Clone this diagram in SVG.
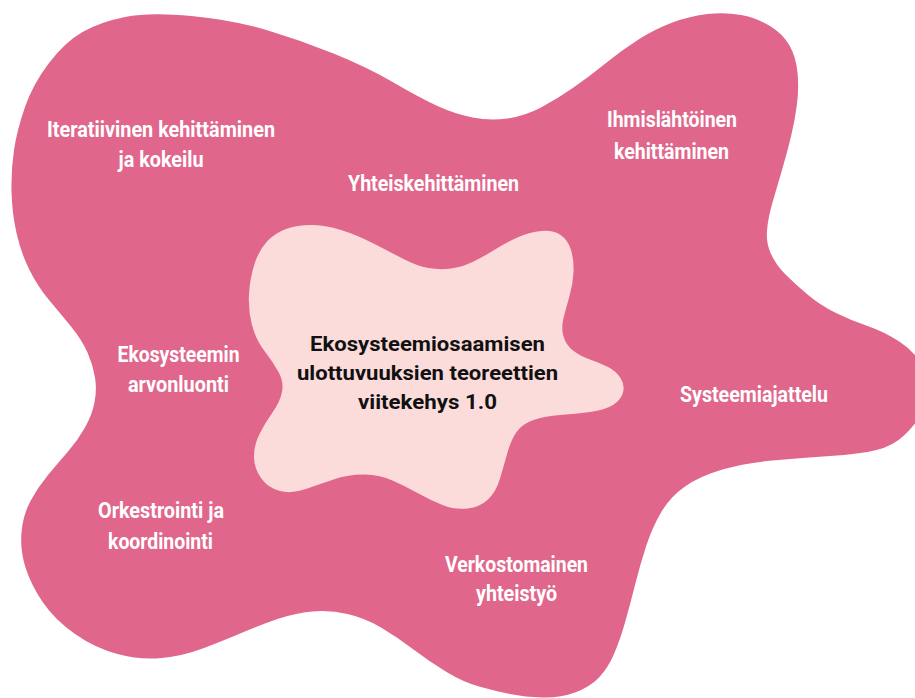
<svg xmlns="http://www.w3.org/2000/svg" width="915" height="698" viewBox="0 0 915 698">
<style>
.outer{fill:#E1668C}
.inner{fill:#FCDCDB}
.lbl{font-family:Roboto,"Liberation Sans",sans-serif;font-weight:700;font-size:22px;fill:#FFFFFF;text-anchor:middle}
.ctr{font-family:Roboto,"Liberation Sans",sans-serif;font-weight:700;font-size:19.5px;fill:#111111;text-anchor:middle}
</style>
<rect width="915" height="698" fill="#FFFFFF"/>
<g id="outer-blob">
<path class="outer" d="M125,17 Q150,12 191.5,16 Q233,20 266.5,30 Q300,40 333.5,53.5 Q367,67 393.5,82.5 Q420,98 437.5,106 Q455,114 472.5,117.5 Q490,121 507.5,118.5 Q525,116 541,107.5 Q557,99 573.5,87.5 Q590,76 606,63 Q622,50 638.5,39.5 Q655,29 672.5,22.5 Q690,16 707.5,14 Q725,12 741,15 Q757,18 770,26 Q783,34 789.5,45.5 Q796,57 797.5,72.5 Q799,88 797,104 Q795,120 791,136.5 Q787,153 782,170 Q777,187 772.5,202.5 Q768,218 767,230.5 Q766,243 771,254 Q776,265 785.5,274.5 Q795,284 807.5,294.5 Q820,305 835,312.5 Q850,320 867.5,326 Q885,332 900,342 Q915,352 922.5,366 Q930,380 930,390 Q930,400 922.5,412.5 Q915,425 904,435.5 Q893,446 876.5,450 Q860,454 830,456 Q800,458 772.5,460.5 Q745,463 722.5,469.5 Q700,476 685,486.5 Q670,497 661,512.5 Q652,528 646,546.5 Q640,565 635,585 Q630,605 625,622.5 Q620,640 614,654 Q608,668 599,677.5 Q590,687 575,692.5 Q560,698 542.5,697.5 Q525,697 510,694 Q495,691 479,686.5 Q463,682 446.5,672 Q430,662 413.5,649.5 Q397,637 381,627.5 Q365,618 347.5,614 Q330,610 312.5,611.5 Q295,613 277.5,619 Q260,625 242.5,632.5 Q225,640 204,648 Q183,656 161.5,658 Q140,660 117.5,654 Q95,648 75,634 Q55,620 43,602.5 Q31,585 25.5,567.5 Q20,550 21.5,532.5 Q23,515 30.5,501 Q38,487 48,475 Q58,463 68,451.5 Q78,440 85,427.5 Q92,415 94.5,402.5 Q97,390 95,377.5 Q93,365 87.5,352.5 Q82,340 71,326.5 Q60,313 49,300 Q38,287 29.5,270 Q21,253 16.5,233 Q12,213 11.5,191.5 Q11,170 14,150 Q17,130 25,107 Q33,84 49,63 Q65,42 82.5,32 Q100,22 125,17 Z"/>
</g>
<g id="inner-blob">
<path class="inner" d="M286,229 Q297,225 311,225 Q325,225 341,230 Q357,235 373.5,243.5 Q390,252 403.5,259 Q417,266 428.5,268 Q440,270 451,268.5 Q462,267 472.5,262 Q483,257 495,249.5 Q507,242 518.5,237 Q530,232 541.5,231 Q553,230 560.5,235 Q568,240 571,250 Q574,260 573.5,272 Q573,284 569.5,296 Q566,308 563.5,318 Q561,328 563.5,336.5 Q566,345 573,350.5 Q580,356 590,359.5 Q600,363 608,367 Q616,371 620.5,378 Q625,385 623,392.5 Q621,400 613,405 Q605,410 590,412 Q575,414 560,415 Q545,416 533.5,420 Q522,424 516.5,432 Q511,440 507.5,452.5 Q504,465 500,478.5 Q496,492 488,499.5 Q480,507 467.5,508.5 Q455,510 442.5,505 Q430,500 417.5,493 Q405,486 392.5,480.5 Q380,475 365,474.5 Q350,474 335,479 Q320,484 306,489 Q292,494 280,491 Q268,488 261,478 Q254,468 254,456.5 Q254,445 259.5,434 Q265,423 272.5,412.5 Q280,402 282,392 Q284,382 278.5,372 Q273,362 264.5,351 Q256,340 252,325 Q248,310 249,294 Q250,278 254.5,264 Q259,250 267,241.5 Q275,233 286,229 Z"/>
</g>
<g id="center">
<text class="ctr" x="427.5" y="351" textLength="235" lengthAdjust="spacingAndGlyphs">Ekosysteemiosaamisen</text>
<text class="ctr" x="427.5" y="380" textLength="261" lengthAdjust="spacingAndGlyphs">ulottuvuuksien teoreettien</text>
<text class="ctr" x="427.5" y="409" textLength="139" lengthAdjust="spacingAndGlyphs">viitekehys 1.0</text>
</g>
<g id="iteratiivinen">
<text class="lbl" x="161" y="137" textLength="228" lengthAdjust="spacingAndGlyphs">Iteratiivinen kehittäminen</text>
<text class="lbl" x="161" y="167" textLength="85" lengthAdjust="spacingAndGlyphs">ja kokeilu</text>
</g>
<g id="yhteiskehittaminen">
<text class="lbl" x="433.5" y="191" textLength="171" lengthAdjust="spacingAndGlyphs">Yhteiskehittäminen</text>
</g>
<g id="ihmislahtoinen">
<text class="lbl" x="672" y="127" textLength="130" lengthAdjust="spacingAndGlyphs">Ihmislähtöinen</text>
<text class="lbl" x="671.5" y="159" textLength="115" lengthAdjust="spacingAndGlyphs">kehittäminen</text>
</g>
<g id="ekosysteemin">
<text class="lbl" x="178.5" y="362" textLength="122" lengthAdjust="spacingAndGlyphs">Ekosysteemin</text>
<text class="lbl" x="178.5" y="392" textLength="101" lengthAdjust="spacingAndGlyphs">arvonluonti</text>
</g>
<g id="systeemiajattelu">
<text class="lbl" x="754" y="402" textLength="148" lengthAdjust="spacingAndGlyphs">Systeemiajattelu</text>
</g>
<g id="orkestrointi">
<text class="lbl" x="161" y="518" textLength="126" lengthAdjust="spacingAndGlyphs">Orkestrointi ja</text>
<text class="lbl" x="160.5" y="549" textLength="105" lengthAdjust="spacingAndGlyphs">koordinointi</text>
</g>
<g id="verkostomainen">
<text class="lbl" x="516.5" y="572" textLength="143" lengthAdjust="spacingAndGlyphs">Verkostomainen</text>
<text class="lbl" x="516.5" y="601" textLength="81" lengthAdjust="spacingAndGlyphs">yhteistyö</text>
</g>
</svg>
